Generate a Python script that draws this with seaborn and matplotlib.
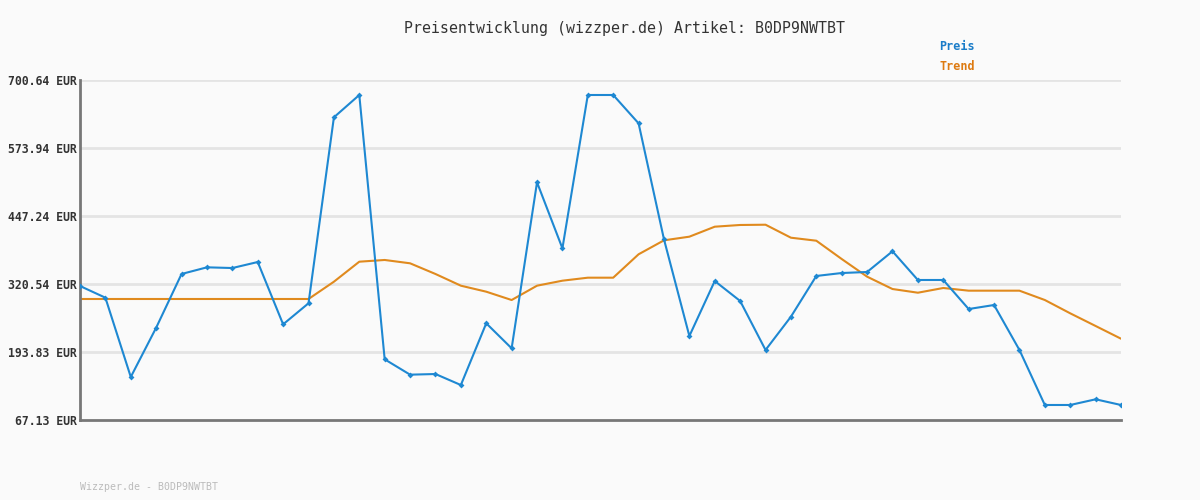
import numpy as np
import pandas as pd
import seaborn as sns
import matplotlib.pyplot as plt

# price history (EUR)
preis = [316.8, 295.0, 147.3, 239.1, 339.2, 351.6, 350.3, 361.5, 245.4, 284.6,
         631.1, 672.7, 180.2, 151.6, 152.8, 132.3, 247.3, 200.7, 510.0, 387.0,
         672.7, 672.7, 619.9, 403.8, 223.6, 326.1, 288.9, 197.6, 259.6, 335.5,
         341.0, 342.9, 381.5, 328.0, 328.0, 273.9, 281.4, 197.6, 95.1, 95.1,
         105.7, 95.1]
trend = [292.6, 292.6, 292.6, 292.6, 292.6, 292.6, 292.6, 292.6, 292.6, 292.6,
         324.8, 362.1, 365.3, 359.1, 339.2, 317.4, 306.2, 290.7, 317.4, 326.7,
         332.3, 332.3, 375.9, 401.9, 408.7, 427.3, 430.5, 431.0, 406.8, 401.2,
         367.1, 334.2, 311.2, 304.3, 313.1, 308.1, 308.1, 308.1, 290.7, 265.9,
         242.3, 218.6]
y_ticks = [67.13, 193.83, 320.54, 447.24, 573.94, 700.64]
artikel = 'B0DP9NWTBT'

df = pd.DataFrame({'idx': range(len(preis)), 'Preis': preis, 'Trend': trend})

sns.set_style('white')
plt.rcParams['font.family'] = ['DejaVu Sans Mono', 'DejaVu Sans']

fig = plt.figure(figsize=(12, 5), dpi=100, facecolor='#fafafa')
ax = fig.add_axes([80 / 1200, 80 / 500, 1041 / 1200, 340 / 500])
ax.set_facecolor('#fafafa')

for t in y_ticks[1:]:
    ax.axhline(t, color='#e4e4e4', lw=2, zorder=0)

sns.lineplot(data=df, x='idx', y='Trend', ax=ax, color='#e08a1e', lw=1.5, zorder=2)
sns.lineplot(data=df, x='idx', y='Preis', ax=ax, color='#1e88d2', lw=1.5,
             marker='D', markersize=3, markeredgewidth=0, zorder=3)

ax.set_xlim(0, len(preis) - 1)
ax.set_ylim(y_ticks[0], y_ticks[-1])
ax.set_yticks(y_ticks)
ax.set_yticklabels([f'{v:.2f} EUR' for v in y_ticks], fontsize=8.3,
                   fontweight='bold', color='#333333')
ax.tick_params(axis='y', length=0, pad=2)
ax.set_xticks([])
ax.set_xlabel('')
ax.set_ylabel('')
for s in ['top', 'right']:
    ax.spines[s].set_visible(False)
for s in ['left', 'bottom']:
    ax.spines[s].set_color('#777777')
    ax.spines[s].set_linewidth(2)

fig.text(624 / 1200, 1 - 28 / 500, f'Preisentwicklung (wizzper.de) Artikel: {artikel}',
         ha='center', va='center', fontsize=10.7, color='#333333')
fig.text(975 / 1200, 1 - 47 / 500, 'Preis', ha='right', va='center',
         fontsize=8.5, fontweight='bold', color='#1a7cc8')
fig.text(975 / 1200, 1 - 67 / 500, 'Trend', ha='right', va='center',
         fontsize=8.5, fontweight='bold', color='#dd7a10')
fig.text(80 / 1200, 1 - 487 / 500, f'Wizzper.de - {artikel}', ha='left', va='center',
         fontsize=7.1, color='#bbbbbb')

fig.savefig('out.png', dpi=100, facecolor='#fafafa')
